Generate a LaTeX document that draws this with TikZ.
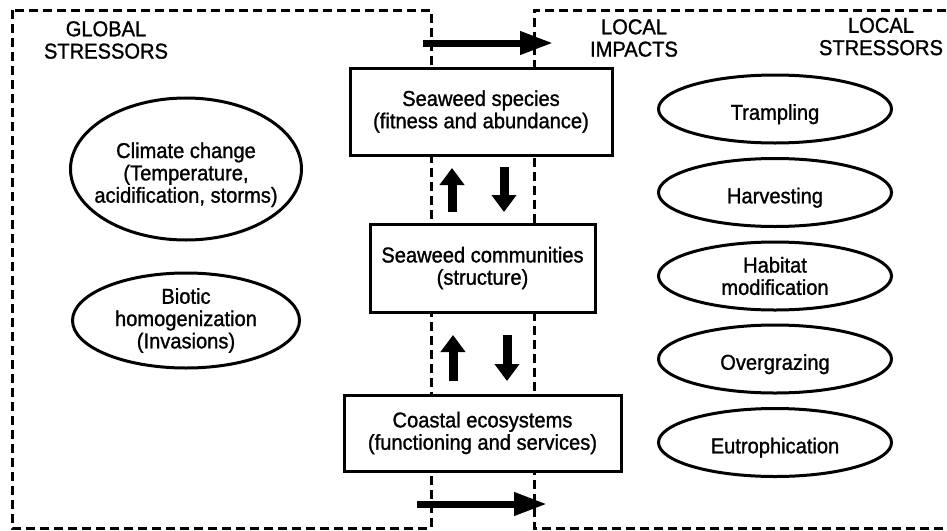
\documentclass[tikz,border=0pt]{standalone}
\usepackage{fontspec}
\setmainfont{Liberation Sans}[FakeStretch=0.935,FakeBold=1.2]
\usetikzlibrary{shapes.geometric,arrows.meta}
\newcommand{\figfont}{\fontsize{21.5}{22.3}\selectfont}
\begin{document}
\begin{tikzpicture}[x=1pt,y=-1pt,
  txt/.style={font=\figfont, align=center, inner sep=0pt},
  zone/.style={line width=3pt, dash pattern=on 9pt off 5pt},
  drop/.style={execute at begin node={\rule{0pt}{#1}}},
  levelbox/.style={draw, line width=3pt, fill=white, inner sep=0pt, font=\figfont, align=center},
  stressor/.style={draw, ellipse, line width=3pt, fill=white, inner sep=-30pt, font=\figfont, align=center},
  smallstressor/.style={stressor, minimum width=233pt, minimum height=68pt, drop=26pt},
  harrow/.style={line width=7pt, -{Triangle[length=33pt,width=22pt]}},
  varrow/.style={line width=9pt, -{Triangle[length=17pt,width=24pt]}}
]
\useasboundingbox (0,0) rectangle (947,530);
\clip (0,0) rectangle (947,530);
% dashed zones
\draw[zone] (12,10) rectangle (431,528);
\draw[zone] (960,10) -- (534,10) -- (534,528) -- (960,528);
% headers
\node[txt] (global) at (106,40) {GLOBAL\\STRESSORS};
\node[txt] (impacts) at (634,38) {LOCAL\\IMPACTS};
\node[txt] (local) at (881,36.5) {LOCAL\\STRESSORS};
% central boxes
\node[levelbox, minimum width=262pt, minimum height=87pt] (species) at (481,111.5) {Seaweed species\\(fitness and abundance)};
\node[levelbox, minimum width=225pt, minimum height=88pt] (communities) at (482.5,268) {Seaweed communities\\(structure)};
\node[levelbox, minimum width=277pt, minimum height=76pt] (coastal) at (482.5,433) {Coastal ecosystems\\(functioning and services)};
% global stressors
\node[stressor, minimum width=231pt, minimum height=142pt, drop=71.7pt] (climate) at (186,169) {Climate change\\(Temperature,\\acidification, storms)};
\node[stressor, minimum width=227pt, minimum height=95pt] (biotic) at (186,320.5) {Biotic\\homogenization\\(Invasions)};
% local stressors
\node[smallstressor] (trampling) at (775,109) {Trampling};
\node[smallstressor] (harvesting) at (775,192.5) {Harvesting};
\node[stressor, minimum width=233pt, minimum height=68pt] (habitat) at (775,276) {Habitat\\modification};
\node[smallstressor] (overgrazing) at (775,359) {Overgrazing};
\node[smallstressor] (eutro) at (775,442.5) {Eutrophication};
% arrow end points
\coordinate (t1) at (423,43); \coordinate (t2) at (553,43);
\coordinate (b1) at (417,504); \coordinate (b2) at (547,504);
\coordinate (u1a) at (452,212); \coordinate (u1b) at (452,168);
\coordinate (d1a) at (504,167); \coordinate (d1b) at (504,212);
\coordinate (u2a) at (453,381); \coordinate (u2b) at (453,335);
\coordinate (d2a) at (507,335); \coordinate (d2b) at (507,381);
\draw[harrow] (t1) -- (t2);
\draw[harrow] (b1) -- (b2);
\draw[varrow] (u1a) -- (u1b);
\draw[varrow] (d1a) -- (d1b);
\draw[varrow] (u2a) -- (u2b);
\draw[varrow] (d2a) -- (d2b);
\end{tikzpicture}
\end{document}
